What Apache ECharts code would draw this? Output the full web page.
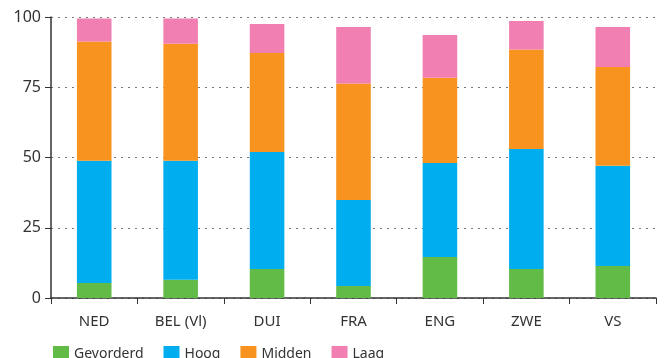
<!DOCTYPE html>
<html><head><meta charset="utf-8">
<script src="https://cdn.jsdelivr.net/npm/echarts@6/dist/echarts.min.js"></script>
<style>html,body{margin:0;padding:0;background:#fff}#c{width:664px;height:358px}</style>
</head><body><div id="c"></div>
<script>
const categories = ['NED','BEL (Vl)','DUI','FRA','ENG','ZWE','VS'];
const gevorderd = [5.3, 6.5, 10.3, 4.3, 14.6, 10.3, 11.4];
const hoog      = [43.5, 42.3, 41.7, 30.6, 33.4, 42.7, 35.7];
const midden    = [42.5, 41.7, 35.2, 41.4, 30.4, 35.4, 35.1];
const laag      = [8.2, 9.0, 10.3, 20.1, 15.2, 10.2, 14.2];
const yTicks = [0, 25, 50, 75, 100];

const names = ['Gevorderd','Hoog','Midden','Laag'];
const colors = ['#63bb47','#00aeef','#f7931e','#f27fb2'];
const dataSets = [gevorderd, hoog, midden, laag];
const font = 'Noto Sans';

const chart = echarts.init(document.getElementById('c'));
chart.setOption({
  animation: false,
  textStyle: {fontFamily: font},
  grid: {left: 51, right: 8, top: 17, bottom: 60},
  legend: {
    data: names, left: 48, top: 341, itemWidth: 16, itemHeight: 16, itemGap: 20,
    icon: 'rect', textStyle: {fontSize: 14, color: '#333', fontFamily: font}
  },
  xAxis: {
    type: 'category', data: categories,
    axisLine: {lineStyle: {color: '#333', width: 1.5}},
    axisTick: {show: true, length: 6, lineStyle: {color: '#333'}},
    axisLabel: {fontSize: 15, color: '#333', margin: 16, fontFamily: font}
  },
  yAxis: {
    type: 'value', min: yTicks[0], max: yTicks[yTicks.length-1], interval: 25,
    axisLine: {show: true, lineStyle: {color: '#333', width: 1.5}},
    axisTick: {show: true, length: 6, lineStyle: {color: '#333'}},
    axisLabel: {fontSize: 16, color: '#333', margin: 10, fontFamily: font},
    splitLine: {lineStyle: {color: '#777', type: [2, 5], width: 1}}
  },
  series: dataSets.map((d, i) => ({
    name: names[i], type: 'bar', stack: 'total', data: d,
    barWidth: '40%', itemStyle: {color: colors[i]}
  }))
});
</script></body></html>
